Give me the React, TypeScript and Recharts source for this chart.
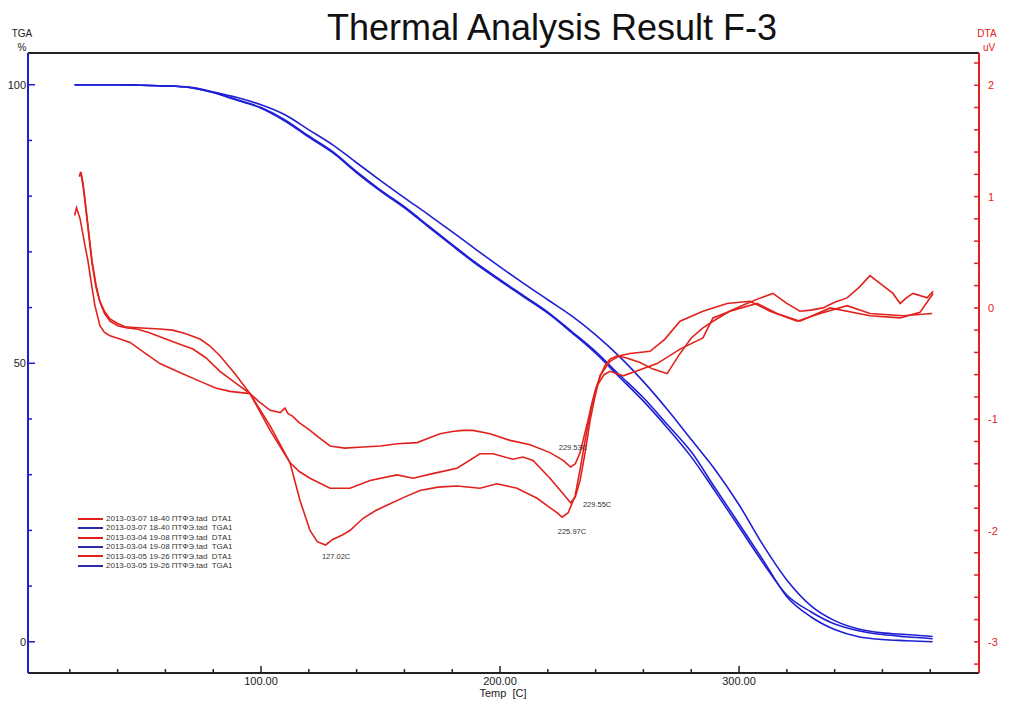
import React from "react";
import {
  ComposedChart,
  Line,
  XAxis,
  YAxis,
  ReferenceLine,
  ReferenceDot,
} from "recharts";

// Thermal analysis F-3: three TGA runs (left axis, %) and three DTA runs (right axis, uV)

const RED = "#e3211c";
const BLUE = "#1f1fd4";

const xTicks = [20, 40, 60, 80, 100, 120, 140, 160, 180, 200, 220, 240, 260, 280, 300, 320, 340, 360, 380];
const tgaTicks = [0, 10, 20, 30, 40, 50, 60, 70, 80, 90, 100];
const dtaTicks = [
  -3.2, -3, -2.8, -2.6, -2.4, -2.2, -2, -1.8, -1.6, -1.4, -1.2, -1, -0.8, -0.6, -0.4, -0.2, 0,
  0.2, 0.4, 0.6, 0.8, 1, 1.2, 1.4, 1.6, 1.8, 2, 2.2,
];

const runNames = ["2013-03-07 18-40 ПТФЭ.tad", "2013-03-04 19-08 ПТФЭ.tad", "2013-03-05 19-26 ПТФЭ.tad"];

// TGA, %
const tgaTemps = [22, 30, 40, 50, 60, 70, 80, 90, 100, 110, 120, 130, 140, 150, 160, 170, 180, 190, 200, 210, 220, 230, 240, 250, 260, 270, 280, 290, 300, 310, 320, 330, 340, 350, 360, 370, 381];
const tgaRun1 = [100, 100, 100, 99.9, 99.8, 99.5, 98.6, 97.3, 95.9, 93.7, 90.8, 88.0, 84.4, 81.1, 78.1, 74.7, 71.3, 68.0, 65.0, 62.1, 59.2, 55.7, 52.1, 47.9, 43.8, 39.0, 34.1, 27.6, 21.2, 14.7, 8.1, 4.5, 2.2, 0.9, 0.4, 0.2, 0];
const tgaRun2 = [100, 100, 100, 99.9, 99.8, 99.5, 98.6, 97.2, 95.8, 93.5, 90.6, 87.8, 84.2, 80.9, 77.9, 74.5, 71.1, 67.8, 64.8, 61.9, 59.0, 55.5, 51.8, 47.5, 43.2, 38.4, 33.2, 27.0, 20.6, 14.2, 8.4, 5.4, 3.2, 2.0, 1.3, 0.9, 0.55];
const tgaRun3 = [100, 100, 100, 99.9, 99.8, 99.6, 98.7, 97.7, 96.4, 94.6, 91.9, 89.2, 86.0, 82.8, 79.7, 76.7, 73.6, 70.4, 67.3, 64.3, 61.4, 58.5, 55.1, 51.2, 46.7, 41.7, 36.3, 30.9, 24.6, 17.4, 11.1, 6.5, 3.8, 2.3, 1.6, 1.3, 0.95];

// DTA, uV
const dta1Temps = [24.0, 24.6, 25.5, 26.4, 27.8, 29.3, 31.0, 32.6, 34.5, 36.8, 40.0, 43.1, 50.0, 57.7, 63, 68.2, 74.5, 78.5, 82.8, 89, 95.4, 103.8, 112.1, 116.3, 120.5, 123.5, 127.0, 130.0, 134, 137.2, 142.7, 148, 154, 160, 166.5, 174, 182, 191.6, 198.7, 207.1, 215.5, 220, 223.8, 226.0, 228.5, 231.4, 233.5, 235.6, 237.7, 239.7, 241.8, 243.9, 246, 249.0, 253, 258.6, 264, 269.9, 275, 280, 284.9, 289.1, 296, 303.3, 309, 314.2, 320, 325.5, 330, 335.1, 340, 345.2, 350, 354.8, 359.0, 364.4, 367.4, 370, 372.8, 378.7, 381.2];
const dta1 = [1.18, 1.22, 1.12, 0.96, 0.70, 0.42, 0.20, 0.06, -0.03, -0.10, -0.14, -0.17, -0.18, -0.19, -0.20, -0.23, -0.28, -0.34, -0.43, -0.59, -0.77, -1.10, -1.39, -1.73, -2.00, -2.10, -2.13, -2.08, -2.04, -2.00, -1.89, -1.82, -1.76, -1.70, -1.64, -1.61, -1.60, -1.62, -1.58, -1.62, -1.71, -1.78, -1.84, -1.88, -1.84, -1.69, -1.45, -1.19, -0.95, -0.75, -0.62, -0.52, -0.46, -0.43, -0.45, -0.49, -0.55, -0.59, -0.42, -0.27, -0.18, -0.12, -0.03, 0.04, 0.09, 0.13, 0.04, -0.03, -0.02, 0.0, 0.05, 0.09, 0.18, 0.29, 0.22, 0.13, 0.04, 0.09, 0.13, 0.09, 0.15];

const dta2Temps = [24.0, 24.6, 25.5, 26.4, 27.8, 29.3, 31.0, 32.6, 34.5, 36.8, 40, 44, 48.1, 53, 57.7, 64, 71.5, 77, 82.8, 89, 95.4, 103.8, 112.1, 116, 120.5, 128.9, 137.2, 145.6, 156.9, 163.6, 173.6, 182, 191.6, 197.1, 205.4, 209.6, 213.8, 220.9, 226.4, 229.5, 231.5, 233.5, 235.6, 237.7, 239.7, 241.8, 246.0, 250, 254.4, 262.8, 269, 275.3, 284.9, 295.0, 304.6, 313.0, 324.3, 333.9, 345.2, 354.8, 368.6, 380.8];
const dta2 = [1.18, 1.22, 1.10, 0.95, 0.68, 0.40, 0.18, 0.05, -0.05, -0.12, -0.16, -0.18, -0.19, -0.22, -0.26, -0.31, -0.37, -0.45, -0.57, -0.67, -0.77, -1.06, -1.39, -1.47, -1.53, -1.62, -1.62, -1.55, -1.50, -1.53, -1.48, -1.44, -1.31, -1.31, -1.36, -1.34, -1.37, -1.53, -1.67, -1.75, -1.70, -1.55, -1.30, -1.01, -0.80, -0.61, -0.48, -0.43, -0.41, -0.39, -0.28, -0.12, -0.03, 0.04, 0.06, -0.03, -0.12, -0.05, 0.02, -0.05, -0.07, -0.05];

const dta3Temps = [22.0, 22.8, 24.3, 26, 27.6, 29, 30.5, 32.6, 34.5, 36.8, 41, 45.2, 51, 57.7, 66, 74.5, 81, 87, 95.4, 99, 103.8, 108, 110, 111.3, 113, 116, 120.5, 124, 128.9, 135, 142.7, 150, 156.9, 165.3, 170, 174.9, 180, 184.5, 188.7, 195.8, 204.2, 212.6, 220.9, 226.4, 229.5, 231.5, 233.5, 236.8, 238.5, 240.6, 243.5, 246, 251.5, 258, 265.7, 275.3, 284.9, 289.1, 296.2, 307.5, 315.9, 325.5, 338.1, 354.8, 367.4, 375.7, 381.2];
const dta3 = [0.83, 0.90, 0.80, 0.60, 0.42, 0.22, 0.02, -0.16, -0.22, -0.25, -0.28, -0.31, -0.40, -0.50, -0.58, -0.66, -0.72, -0.75, -0.77, -0.84, -0.92, -0.94, -0.90, -0.95, -0.97, -1.03, -1.10, -1.16, -1.24, -1.26, -1.25, -1.24, -1.22, -1.21, -1.17, -1.13, -1.11, -1.10, -1.10, -1.13, -1.19, -1.23, -1.30, -1.37, -1.43, -1.40, -1.30, -1.01, -0.85, -0.70, -0.60, -0.57, -0.61, -0.56, -0.50, -0.37, -0.27, -0.09, -0.03, 0.04, -0.05, -0.12, 0.0, -0.07, -0.09, -0.04, 0.13];

// peak labels
const peakLabels = ["127.02C", "229.53C", "229.55C", "225.97C"];
const peakLabelT = [131.4, 230.5, 240.6, 230.1];
const peakLabelDta = [-2.235, -1.257, -1.768, -2.011];

const zip = (xs: number[], ys: number[]) => xs.map((t, i) => ({ t, v: ys[i] }));

const tgaSeries = [tgaRun1, tgaRun2, tgaRun3].map((ys) => zip(tgaTemps, ys));
const dtaSeries = [zip(dta1Temps, dta1), zip(dta2Temps, dta2), zip(dta3Temps, dta3)];

const legendItems = runNames.flatMap((n) => [
  { label: `${n}  DTA1`, color: RED },
  { label: `${n}  TGA1`, color: "#2c2ca8" },
]);

function XTick(props: any) {
  const { x, y, payload } = props;
  const major = payload.value % 100 === 0;
  return (
    <g>
      <line x1={x} x2={x} y1={y} y2={y - (major ? 7 : 4)} stroke="#222" strokeWidth={1.5} />
      {major && (
        <text x={x} y={y + 12} textAnchor="middle" fontSize={11} fill="#222">
          {payload.value.toFixed(2)}
        </text>
      )}
    </g>
  );
}

function TgaTick(props: any) {
  const { x, y, payload } = props;
  const major = payload.value % 50 === 0;
  return (
    <g>
      <line x1={x - 1} x2={x + (major ? 7 : 4)} y1={y} y2={y} stroke={BLUE} strokeWidth={1.5} />
      {major && (
        <text x={x - 2} y={y + 4} textAnchor="end" fontSize={11} fill="#222">
          {payload.value}
        </text>
      )}
    </g>
  );
}

function DtaTick(props: any) {
  const { x, y, payload } = props;
  const major = Math.abs(payload.value - Math.round(payload.value)) < 1e-6;
  return (
    <g>
      <line x1={x - 5} x2={x + 1} y1={y} y2={y} stroke={RED} strokeWidth={1.5} />
      {major && (
        <text x={x + 9} y={y + 4} textAnchor="start" fontSize={11} fill={RED}>
          {Math.round(payload.value)}
        </text>
      )}
    </g>
  );
}

function LegendBox() {
  return (
    <div style={{ position: "absolute", left: 78, top: 514, fontSize: 8, color: "#333", lineHeight: "9.4px" }}>
      {legendItems.map((it, i) => (
        <div key={i} style={{ display: "flex", alignItems: "center", whiteSpace: "pre" }}>
          <span style={{ display: "inline-block", width: 25, height: 2, background: it.color, marginRight: 3 }} />
          {it.label}
        </div>
      ))}
    </div>
  );
}

export default function App() {
  return (
    <div
      style={{
        position: "absolute",
        left: 0,
        top: 0,
        width: 1011,
        height: 712,
        background: "#fff",
        fontFamily: "'Liberation Sans', Arial, sans-serif",
      }}
    >
      <div style={{ position: "absolute", left: 0, width: 1104, top: 7, textAlign: "center", fontSize: 36, color: "#111" }}>
        Thermal Analysis Result F-3
      </div>
      <div style={{ position: "absolute", left: 8, width: 28, top: 27, textAlign: "center", fontSize: 10, lineHeight: "14px", color: "#222" }}>
        TGA
        <br />%
      </div>
      <div style={{ position: "absolute", left: 972, width: 30, top: 27, textAlign: "center", fontSize: 10, lineHeight: "14px", color: RED }}>
        DTA
        <br />
        <span style={{ marginLeft: 4 }}>uV</span>
      </div>
      <div style={{ position: "absolute", left: 0, width: 1006, top: 687, textAlign: "center", fontSize: 11, lineHeight: "12px", color: "#222", whiteSpace: "pre" }}>
        Temp  [C]
      </div>
      <ComposedChart width={1011} height={712} margin={{ top: 53, right: 0, bottom: 0, left: 0 }}>
        <XAxis
          dataKey="t"
          type="number"
          domain={[2.5, 400.4]}
          allowDataOverflow
          ticks={xTicks}
          interval={0}
          tick={<XTick />}
          tickLine={false}
          tickSize={0}
          tickMargin={0}
          height={39}
          axisLine={{ stroke: "#222", strokeWidth: 2 }}
        />
        <YAxis
          yAxisId="tga"
          orientation="left"
          type="number"
          domain={[-5.6, 105.7]}
          allowDataOverflow
          ticks={tgaTicks}
          interval={0}
          tick={<TgaTick />}
          tickLine={false}
          tickSize={0}
          tickMargin={0}
          width={28}
          axisLine={{ stroke: BLUE, strokeWidth: 2 }}
        />
        <YAxis
          yAxisId="dta"
          orientation="right"
          type="number"
          domain={[-3.28, 2.29]}
          allowDataOverflow
          ticks={dtaTicks}
          interval={0}
          tick={<DtaTick />}
          tickLine={false}
          tickSize={0}
          tickMargin={0}
          width={32}
          axisLine={{ stroke: RED, strokeWidth: 2 }}
        />
        <ReferenceLine yAxisId="tga" y={105.7} stroke="#222" strokeWidth={2} />
        {tgaSeries.map((d, i) => (
          <Line
            key={`tga${i}`}
            yAxisId="tga"
            data={d}
            dataKey="v"
            type="monotone"
            stroke={BLUE}
            strokeWidth={1.6}
            dot={false}
            isAnimationActive={false}
          />
        ))}
        {dtaSeries.map((d, i) => (
          <Line
            key={`dta${i}`}
            yAxisId="dta"
            data={d}
            dataKey="v"
            type="linear"
            stroke={RED}
            strokeWidth={1.6}
            dot={false}
            isAnimationActive={false}
          />
        ))}
        {peakLabels.map((lab, i) => (
          <ReferenceDot
            key={lab + i}
            yAxisId="dta"
            x={peakLabelT[i]}
            y={peakLabelDta[i]}
            r={0}
            fill="none"
            stroke="none"
            label={{ value: lab, position: "center", fontSize: 7.5, fill: "#333" }}
          />
        ))}
      </ComposedChart>
      <LegendBox />
    </div>
  );
}
